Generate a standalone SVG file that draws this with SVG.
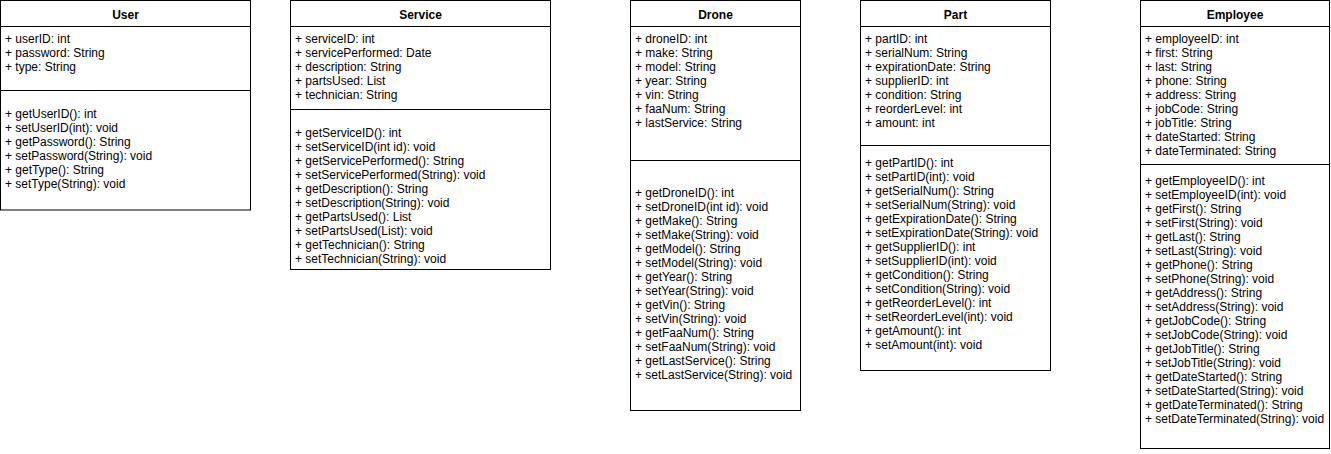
<svg xmlns="http://www.w3.org/2000/svg" width="1331" height="454" viewBox="0 0 1331 454">
<style>
.box{fill:#ffffff;stroke:#000000;stroke-width:1}
.ln{stroke:#000000;stroke-width:1}
.t{font-family:"Liberation Sans",Arial,sans-serif;font-size:12px;fill:#000000}
.h{font-family:"Liberation Sans",Arial,sans-serif;font-size:12px;font-weight:bold;fill:#000000;text-anchor:middle}
</style>
<rect width="1331" height="454" fill="#ffffff"/>
<g id="connectors"></g>
<g id="user">
<rect class="box" x="0.5" y="0.5" width="250" height="209.5"/>
<line class="ln" x1="0.5" y1="26.5" x2="250.5" y2="26.5"/>
<line class="ln" x1="0.5" y1="90.5" x2="250.5" y2="90.5"/>
<text class="h" x="125.5" y="19">User</text>
<text class="t" x="5" y="43"><tspan x="5">+ userID: int</tspan><tspan x="5" dy="14">+ password: String</tspan><tspan x="5" dy="14">+ type: String</tspan></text>
<text class="t" x="5" y="118"><tspan x="5">+ getUserID(): int</tspan><tspan x="5" dy="14">+ setUserID(int): void</tspan><tspan x="5" dy="14">+ getPassword(): String</tspan><tspan x="5" dy="14">+ setPassword(String): void</tspan><tspan x="5" dy="14">+ getType(): String</tspan><tspan x="5" dy="14">+ setType(String): void</tspan></text>
</g>
<g id="service">
<rect class="box" x="290.5" y="0.5" width="260" height="269"/>
<line class="ln" x1="290.5" y1="26.5" x2="550.5" y2="26.5"/>
<line class="ln" x1="290.5" y1="109.5" x2="550.5" y2="109.5"/>
<text class="h" x="420.5" y="19">Service</text>
<text class="t" x="295" y="43"><tspan x="295">+ serviceID: int</tspan><tspan x="295" dy="14">+ servicePerformed: Date</tspan><tspan x="295" dy="14">+ description: String</tspan><tspan x="295" dy="14">+ partsUsed: List</tspan><tspan x="295" dy="14">+ technician: String</tspan></text>
<text class="t" x="295" y="137"><tspan x="295">+ getServiceID(): int</tspan><tspan x="295" dy="14">+ setServiceID(int id): void</tspan><tspan x="295" dy="14">+ getServicePerformed(): String</tspan><tspan x="295" dy="14">+ setServicePerformed(String): void</tspan><tspan x="295" dy="14">+ getDescription(): String</tspan><tspan x="295" dy="14">+ setDescription(String): void</tspan><tspan x="295" dy="14">+ getPartsUsed(): List</tspan><tspan x="295" dy="14">+ setPartsUsed(List): void</tspan><tspan x="295" dy="14">+ getTechnician(): String</tspan><tspan x="295" dy="14">+ setTechnician(String): void</tspan></text>
</g>
<g id="drone">
<rect class="box" x="630.5" y="0.5" width="170" height="410"/>
<line class="ln" x1="630.5" y1="26.5" x2="800.5" y2="26.5"/>
<line class="ln" x1="630.5" y1="160.5" x2="800.5" y2="160.5"/>
<text class="h" x="715.5" y="19">Drone</text>
<text class="t" x="635" y="43"><tspan x="635">+ droneID: int</tspan><tspan x="635" dy="14">+ make: String</tspan><tspan x="635" dy="14">+ model: String</tspan><tspan x="635" dy="14">+ year: String</tspan><tspan x="635" dy="14">+ vin: String</tspan><tspan x="635" dy="14">+ faaNum: String</tspan><tspan x="635" dy="14">+ lastService: String</tspan></text>
<text class="t" x="635" y="197"><tspan x="635">+ getDroneID(): int</tspan><tspan x="635" dy="14">+ setDroneID(int id): void</tspan><tspan x="635" dy="14">+ getMake(): String</tspan><tspan x="635" dy="14">+ setMake(String): void</tspan><tspan x="635" dy="14">+ getModel(): String</tspan><tspan x="635" dy="14">+ setModel(String): void</tspan><tspan x="635" dy="14">+ getYear(): String</tspan><tspan x="635" dy="14">+ setYear(String): void</tspan><tspan x="635" dy="14">+ getVin(): String</tspan><tspan x="635" dy="14">+ setVin(String): void</tspan><tspan x="635" dy="14">+ getFaaNum(): String</tspan><tspan x="635" dy="14">+ setFaaNum(String): void</tspan><tspan x="635" dy="14">+ getLastService(): String</tspan><tspan x="635" dy="14">+ setLastService(String): void</tspan></text>
</g>
<g id="part">
<rect class="box" x="860.5" y="0.5" width="190" height="370"/>
<line class="ln" x1="860.5" y1="26.5" x2="1050.5" y2="26.5"/>
<line class="ln" x1="860.5" y1="145.5" x2="1050.5" y2="145.5"/>
<text class="h" x="955.5" y="19">Part</text>
<text class="t" x="865" y="43"><tspan x="865">+ partID: int</tspan><tspan x="865" dy="14">+ serialNum: String</tspan><tspan x="865" dy="14">+ expirationDate: String</tspan><tspan x="865" dy="14">+ supplierID: int</tspan><tspan x="865" dy="14">+ condition: String</tspan><tspan x="865" dy="14">+ reorderLevel: int</tspan><tspan x="865" dy="14">+ amount: int</tspan></text>
<text class="t" x="865" y="167"><tspan x="865">+ getPartID(): int</tspan><tspan x="865" dy="14">+ setPartID(int): void</tspan><tspan x="865" dy="14">+ getSerialNum(): String</tspan><tspan x="865" dy="14">+ setSerialNum(String): void</tspan><tspan x="865" dy="14">+ getExpirationDate(): String</tspan><tspan x="865" dy="14">+ setExpirationDate(String): void</tspan><tspan x="865" dy="14">+ getSupplierID(): int</tspan><tspan x="865" dy="14">+ setSupplierID(int): void</tspan><tspan x="865" dy="14">+ getCondition(): String</tspan><tspan x="865" dy="14">+ setCondition(String): void</tspan><tspan x="865" dy="14">+ getReorderLevel(): int</tspan><tspan x="865" dy="14">+ setReorderLevel(int): void</tspan><tspan x="865" dy="14">+ getAmount(): int</tspan><tspan x="865" dy="14">+ setAmount(int): void</tspan></text>
</g>
<g id="employee">
<rect class="box" x="1140.5" y="0.5" width="189" height="448"/>
<line class="ln" x1="1140.5" y1="26.5" x2="1329.5" y2="26.5"/>
<line class="ln" x1="1140.5" y1="164.5" x2="1329.5" y2="164.5"/>
<text class="h" x="1235" y="19">Employee</text>
<text class="t" x="1145" y="43"><tspan x="1145">+ employeeID: int</tspan><tspan x="1145" dy="14">+ first: String</tspan><tspan x="1145" dy="14">+ last: String</tspan><tspan x="1145" dy="14">+ phone: String</tspan><tspan x="1145" dy="14">+ address: String</tspan><tspan x="1145" dy="14">+ jobCode: String</tspan><tspan x="1145" dy="14">+ jobTitle: String</tspan><tspan x="1145" dy="14">+ dateStarted: String</tspan><tspan x="1145" dy="14">+ dateTerminated: String</tspan></text>
<text class="t" x="1145" y="185"><tspan x="1145">+ getEmployeeID(): int</tspan><tspan x="1145" dy="14">+ setEmployeeID(int): void</tspan><tspan x="1145" dy="14">+ getFirst(): String</tspan><tspan x="1145" dy="14">+ setFirst(String): void</tspan><tspan x="1145" dy="14">+ getLast(): String</tspan><tspan x="1145" dy="14">+ setLast(String): void</tspan><tspan x="1145" dy="14">+ getPhone(): String</tspan><tspan x="1145" dy="14">+ setPhone(String): void</tspan><tspan x="1145" dy="14">+ getAddress(): String</tspan><tspan x="1145" dy="14">+ setAddress(String): void</tspan><tspan x="1145" dy="14">+ getJobCode(): String</tspan><tspan x="1145" dy="14">+ setJobCode(String): void</tspan><tspan x="1145" dy="14">+ getJobTitle(): String</tspan><tspan x="1145" dy="14">+ setJobTitle(String): void</tspan><tspan x="1145" dy="14">+ getDateStarted(): String</tspan><tspan x="1145" dy="14">+ setDateStarted(String): void</tspan><tspan x="1145" dy="14">+ getDateTerminated(): String</tspan><tspan x="1145" dy="14">+ setDateTerminated(String): void</tspan></text>
</g>
</svg>
